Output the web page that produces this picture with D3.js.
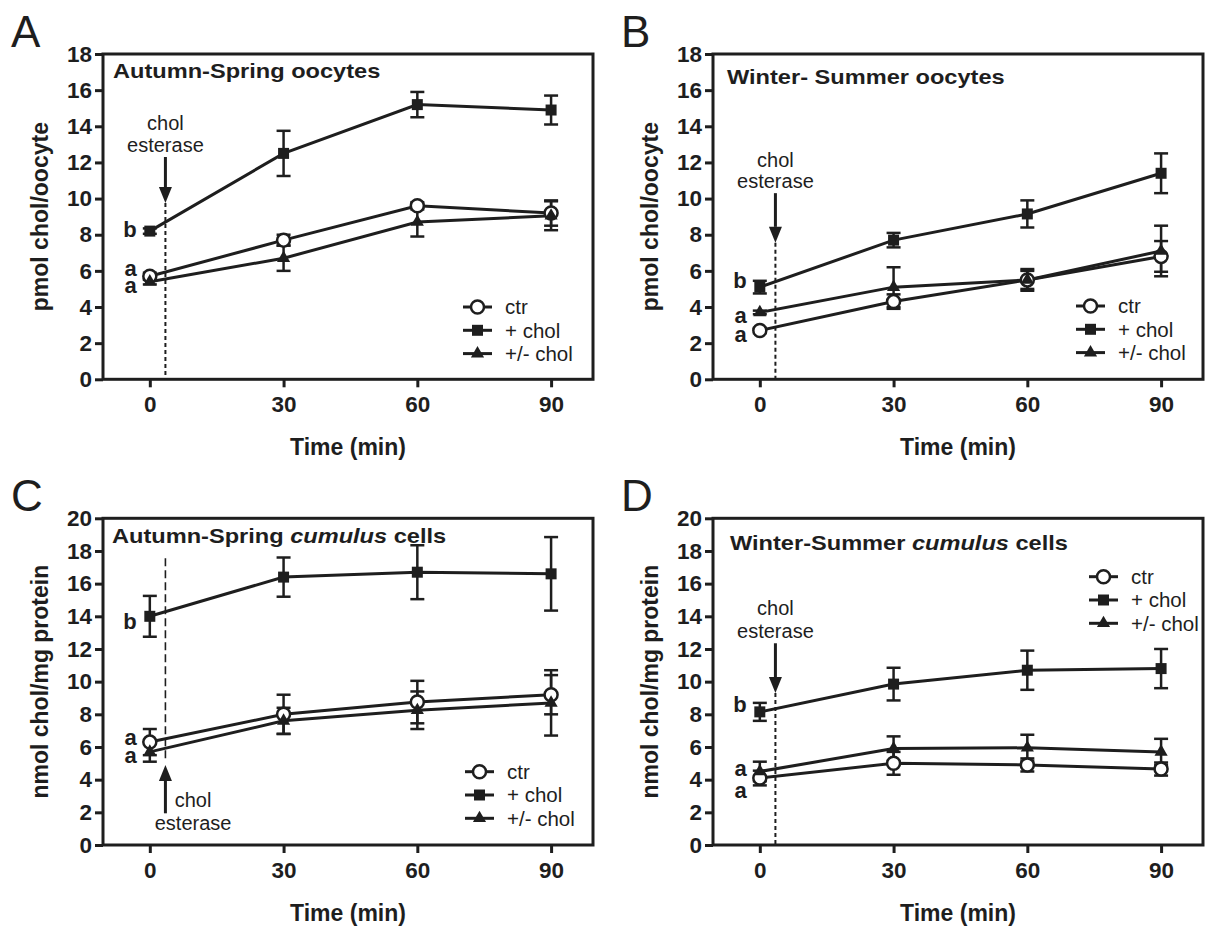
<!DOCTYPE html>
<html lang="en">
<head>
<meta charset="utf-8">
<title>chol time course</title>
<script src="https://cdnjs.cloudflare.com/ajax/libs/d3/7.8.5/d3.min.js"></script>
<style>
  body { margin: 0; background: #fff; }
  text { font-family: "Liberation Sans", Arial, Helvetica, sans-serif; fill: #1e1e1e; }
</style>
</head>
<body>
<script>
// sampling times (min)
var times = [0, 30, 60, 90];
var seriesNames = ["ctr", "+ chol", "+/- chol"];
var esteraseTime = 3.5;

// A - Autumn-Spring oocytes (pmol chol/oocyte), mean and SEM
var ctrA = [5.7, 7.7, 9.6, 9.2],     ctrAErr = [0.2, 0.3, 0.2, 0.7];
var cholA = [8.2, 12.5, 15.2, 14.9], cholAErr = [0.15, 1.25, 0.7, 0.8];
var pmA = [5.4, 6.7, 8.7, 9.05],     pmAErr = [0.15, 0.7, 0.8, 0.8];

// B - Winter-Summer oocytes
var ctrB = [2.7, 4.3, 5.5, 6.8],     ctrBErr = [0.15, 0.4, 0.6, 0.85];
var cholB = [5.1, 7.7, 9.15, 11.4],  cholBErr = [0.35, 0.4, 0.75, 1.1];
var pmB = [3.7, 5.1, 5.5, 7.1],      pmBErr = [0.1, 1.1, 0.5, 1.4];

// C - Autumn-Spring cumulus cells (nmol chol/mg protein)
var ctrC = [6.3, 8.0, 8.75, 9.2],    ctrCErr = [0.8, 1.2, 1.3, 1.2];
var cholC = [14.0, 16.4, 16.7, 16.6], cholCErr = [1.25, 1.2, 1.65, 2.25];
var pmC = [5.7, 7.6, 8.25, 8.7],     pmCErr = [0.6, 0.8, 1.15, 2.0];

// D - Winter-Summer cumulus cells
var ctrD = [4.1, 5.0, 4.9, 4.65],    ctrDErr = [0.45, 0.7, 0.4, 0.4];
var cholD = [8.15, 9.85, 10.7, 10.8], cholDErr = [0.55, 1.0, 1.2, 1.2];
var pmD = [4.5, 5.9, 5.95, 5.7],     pmDErr = [0.6, 0.75, 0.8, 0.8];

// significance letters at t=0 (label, y value of baseline)
var sigA = [["b", 7.9], ["a", 5.7], ["a", 4.75]];
var sigB = [["b", 5.05], ["a", 3.12], ["a", 2.05]];
var sigC = [["b", 13.2], ["a", 6.15], ["a", 5.05]];
var sigD = [["b", 8.15], ["a", 4.2], ["a", 2.9]];

var ink = "#1e1e1e";
var W = 1208, H = 929;

var svg = d3.select("body").append("svg")
    .attr("width", W)
    .attr("height", H);

var panels = [
  { letter: "A", left: 103, right: 593, top: 54, bottom: 379.3, yMax: 18,
    title: [["Autumn-Spring oocytes", false]], tdx: 10, tdy: 23.5, ylab: "pmol chol/oocyte",
    data: [[ctrA, ctrAErr], [cholA, cholAErr], [pmA, pmAErr]], sig: sigA,
    ann: { dir: "down", arrow: [12.3, 9.75], dash: [9.75, 0], text: [13.8, 12.6], tx: esteraseTime, dashed: "4,3", dw: 2 },
    legend: { dx: -130, dy: 253 } },
  { letter: "B", left: 713, right: 1203, top: 54, bottom: 379.3, yMax: 18,
    title: [["Winter- Summer oocytes", false]], tdx: 14, tdy: 29.5, ylab: "pmol chol/oocyte",
    data: [[ctrB, ctrBErr], [cholB, cholBErr], [pmB, pmBErr]], sig: sigB,
    ann: { dir: "down", arrow: [10.3, 7.55], dash: [7.55, 0], text: [11.75, 10.6], tx: esteraseTime, dashed: "4,3", dw: 2 },
    legend: { dx: -127, dy: 252 } },
  { letter: "C", left: 103, right: 593, top: 518.3, bottom: 845, yMax: 20,
    title: [["Autumn-Spring ", false], ["cumulus", true], [" cells", false]], tdx: 9, tdy: 25, ylab: "nmol chol/mg protein",
    data: [[ctrC, ctrCErr], [cholC, cholCErr], [pmC, pmCErr]], sig: sigC,
    ann: { dir: "up", arrow: [1.94, 4.9], dash: [17.55, 5.1], text: [2.35, 0.92], tx: 9.7, dashed: "8,4", dw: 1.6 },
    legend: { dx: -128, dy: 253.4 } },
  { letter: "D", left: 713, right: 1203, top: 518.3, bottom: 845, yMax: 20,
    title: [["Winter-Summer ", false], ["cumulus", true], [" cells", false]], tdx: 17, tdy: 31.5, ylab: "nmol chol/mg protein",
    data: [[ctrD, ctrDErr], [cholD, cholDErr], [pmD, pmDErr]], sig: sigD,
    ann: { dir: "down", arrow: [12.35, 9.3], dash: [9.3, 0], text: [14.1, 12.65], tx: esteraseTime, dashed: "4,3", dw: 2 },
    legend: { dx: -114, dy: 58.4 } }
];

var symbols = [
  d3.symbol().type(d3.symbolCircle).size(Math.PI * 6.5 * 6.5),
  d3.symbol().type(d3.symbolSquare).size(11 * 11),
  d3.symbol().type(d3.symbolTriangle).size(75)
];
var fills = ["#fff", ink, ink];

panels.forEach(drawPanel);

function drawPanel(p) {
  var x = d3.scaleLinear().domain([-10.5, 99.4]).range([p.left, p.right]);
  var y = d3.scaleLinear().domain([0, p.yMax]).range([p.bottom, p.top]);
  var g = svg.append("g");

  // y axis
  var yAxis = d3.axisLeft(y)
      .tickValues(d3.range(0, p.yMax + 1, 2))
      .tickSize(8).tickPadding(3)
      .tickFormat(d3.format("d"));
  var ya = g.append("g")
      .attr("transform", "translate(" + p.left + ",0)")
      .attr("color", ink)
      .call(yAxis);
  ya.select(".domain").remove();
  ya.selectAll("line").attr("stroke-width", 3);
  ya.selectAll("text").attr("font-size", 22.5).attr("font-weight", "bold")
      .attr("font-family", null);

  // x axis
  var xAxis = d3.axisBottom(x).tickValues(times).tickSize(8).tickPadding(9);
  var xa = g.append("g")
      .attr("transform", "translate(0," + p.bottom + ")")
      .attr("color", ink)
      .call(xAxis);
  xa.select(".domain").remove();
  xa.selectAll("line").attr("stroke-width", 3);
  xa.selectAll("text").attr("font-size", 22.5).attr("font-weight", "bold")
      .attr("font-family", null);

  // frame
  g.append("rect")
      .attr("x", p.left).attr("y", p.top)
      .attr("width", p.right - p.left).attr("height", p.bottom - p.top)
      .attr("fill", "none").attr("stroke", ink).attr("stroke-width", 3);

  // panel letter
  g.append("text")
      .attr("x", p.left - 92).attr("y", p.top - 7)
      .attr("font-size", 44)
      .text(p.letter);

  // title (the figure's title type is set wide)
  var t = g.append("g")
      .attr("transform", "translate(" + (p.left + p.tdx) + "," + (p.top + p.tdy) + ") scale(1.18,1)")
      .append("text")
      .attr("font-size", 20).attr("font-weight", "bold");
  p.title.forEach(function(s) {
    t.append("tspan").attr("font-style", s[1] ? "italic" : null).text(s[0]);
  });

  // axis titles
  g.append("text")
      .attr("transform", "translate(" + (p.left - 63) + "," + ((p.top + p.bottom) / 2) + ") rotate(-90)")
      .attr("text-anchor", "middle")
      .attr("dy", "0.35em")
      .attr("font-size", 23).attr("font-weight", "bold")
      .text(p.ylab);
  g.append("text")
      .attr("x", (p.left + p.right) / 2).attr("y", p.bottom + 76)
      .attr("text-anchor", "middle")
      .attr("font-size", 23).attr("font-weight", "bold")
      .text("Time (min)");

  // chol esterase marker
  var a = p.ann;
  g.append("line")
      .attr("x1", x(esteraseTime)).attr("x2", x(esteraseTime))
      .attr("y1", y(a.dash[0])).attr("y2", y(a.dash[1]))
      .attr("stroke", ink).attr("stroke-width", a.dw)
      .attr("stroke-dasharray", a.dashed);
  var ax = x(esteraseTime), y0 = y(a.arrow[0]), y1 = y(a.arrow[1]);
  var sgn = y1 > y0 ? 1 : -1, head = 16;
  g.append("line")
      .attr("x1", ax).attr("x2", ax)
      .attr("y1", y0).attr("y2", y1 - sgn * head)
      .attr("stroke", ink).attr("stroke-width", 3);
  g.append("path")
      .attr("d", "M" + (ax - 6.5) + "," + (y1 - sgn * head) + "L" + (ax + 6.5) + "," + (y1 - sgn * head) + "L" + ax + "," + y1 + "Z")
      .attr("fill", ink);
  g.append("text")
      .attr("x", x(a.tx)).attr("y", y(a.text[0]))
      .attr("text-anchor", "middle").attr("font-size", 20)
      .text("chol");
  g.append("text")
      .attr("x", x(a.tx)).attr("y", y(a.text[1]))
      .attr("text-anchor", "middle").attr("font-size", 20)
      .text("esterase");

  // lines and error bars
  var line = d3.line()
      .x(function(d, i) { return x(times[i]); })
      .y(function(d) { return y(d); });
  p.data.forEach(function(s) {
    var vals = s[0], err = s[1];
    g.append("path")
        .attr("d", line(vals))
        .attr("fill", "none").attr("stroke", ink).attr("stroke-width", 3);
    vals.forEach(function(v, i) {
      var cx = x(times[i]);
      var lo = y(v - err[i]), hi = y(v + err[i]);
      g.append("line").attr("x1", cx).attr("x2", cx).attr("y1", lo).attr("y2", hi)
          .attr("stroke", ink).attr("stroke-width", 2.5);
      [lo, hi].forEach(function(yy) {
        g.append("line").attr("x1", cx - 7).attr("x2", cx + 7).attr("y1", yy).attr("y2", yy)
            .attr("stroke", ink).attr("stroke-width", 2.5);
      });
    });
  });

  // markers
  p.data.forEach(function(s, k) {
    g.selectAll(null)
        .data(s[0])
        .enter()
        .append("path")
        .attr("d", symbols[k])
        .attr("transform", function(d, i) { return "translate(" + x(times[i]) + "," + y(d) + ")"; })
        .attr("fill", fills[k]).attr("stroke", ink).attr("stroke-width", k === 0 ? 2.5 : 0);
  });

  // significance letters
  p.sig.forEach(function(s) {
    g.append("text")
        .attr("x", x(0) - 13).attr("y", y(s[1]))
        .attr("text-anchor", "end")
        .attr("font-size", 22).attr("font-weight", "bold")
        .text(s[0]);
  });

  // legend
  var lg = g.append("g")
      .attr("transform", "translate(" + (p.right + p.legend.dx) + "," + (p.top + p.legend.dy) + ")");
  seriesNames.forEach(function(name, k) {
    var row = lg.append("g").attr("transform", "translate(0," + (k * 23.3) + ")");
    row.append("line").attr("x1", 0).attr("x2", 29).attr("y1", 0).attr("y2", 0)
        .attr("stroke", ink).attr("stroke-width", 3);
    row.append("path").attr("d", symbols[k]).attr("transform", "translate(14.5,0)")
        .attr("fill", fills[k]).attr("stroke", ink).attr("stroke-width", k === 0 ? 2.5 : 0);
    row.append("text").attr("x", 42).attr("dy", "0.36em")
        .attr("font-size", 20.5)
        .text(name);
  });
}
</script>
</body>
</html>
